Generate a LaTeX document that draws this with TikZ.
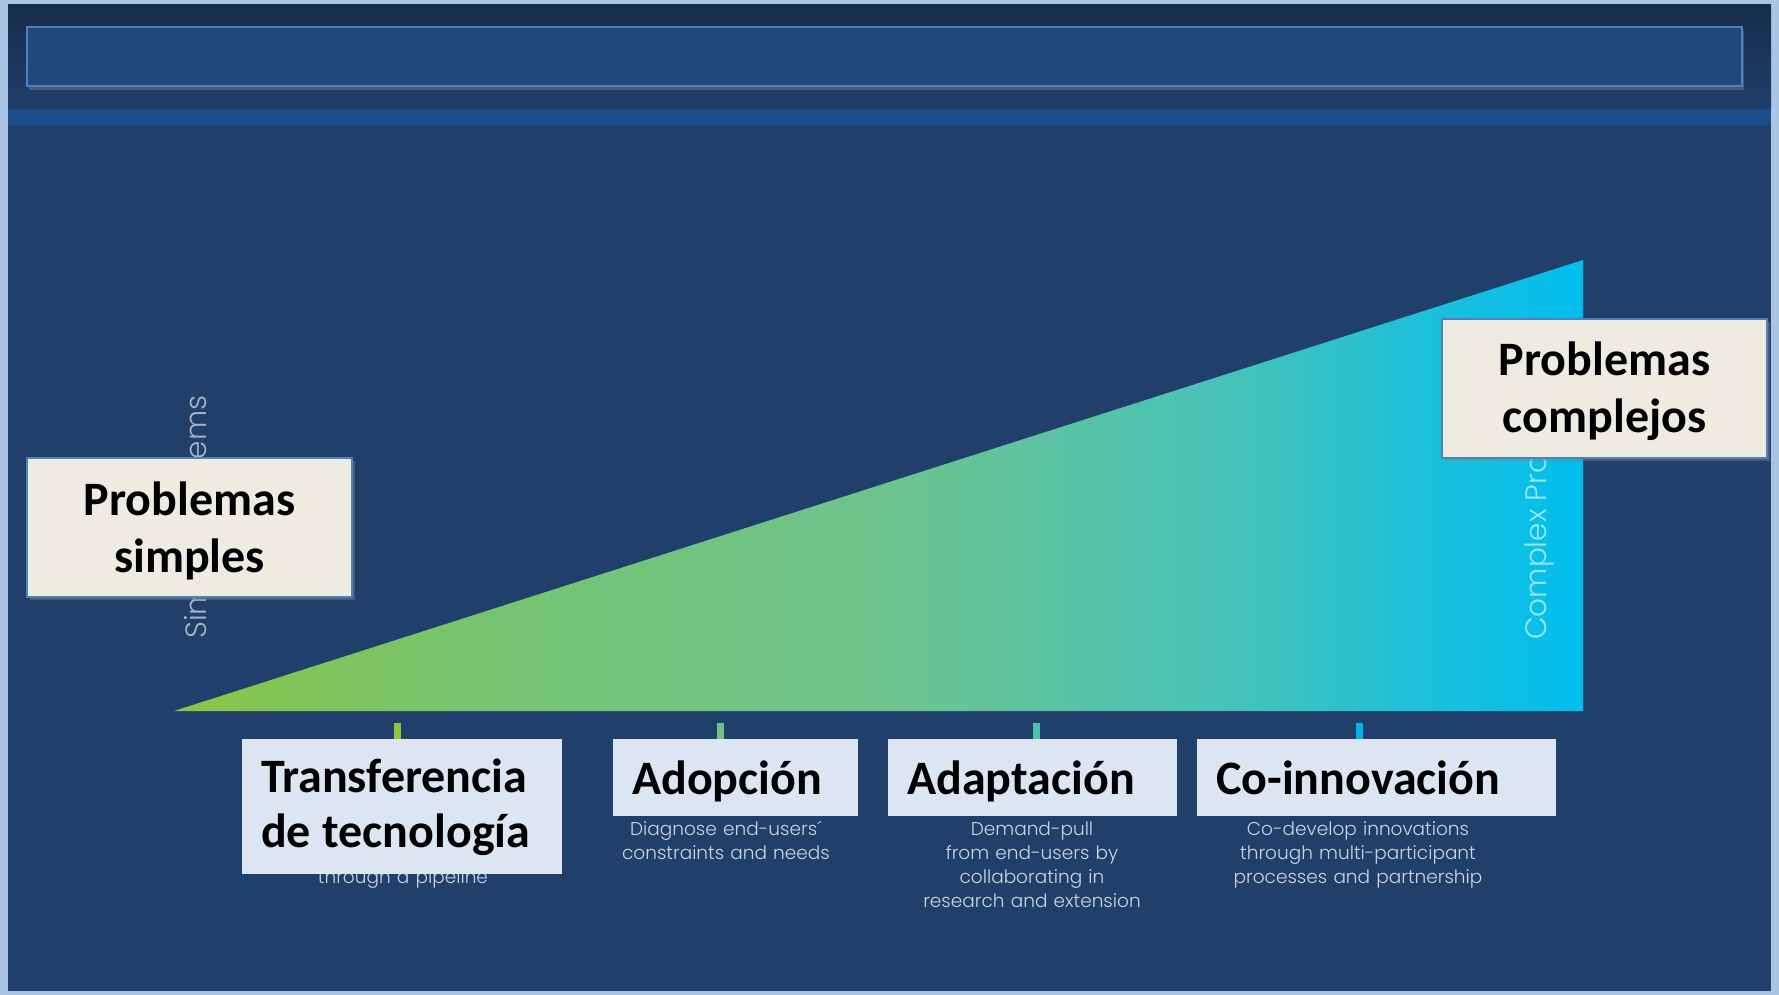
\documentclass[tikz,border=0pt]{standalone}
\usepackage{fontspec}
\newfontfamily\calfont{Carlito}
\newfontfamily\thinfont{Poppins Light}
\usetikzlibrary{shadows}

\definecolor{framec}{RGB}{169,196,228}
\definecolor{bgc}{RGB}{32,63,106}
\definecolor{topc}{RGB}{24,44,76}
\definecolor{stripec}{RGB}{27,77,138}
\definecolor{headfill}{RGB}{31,73,125}
\definecolor{headline}{RGB}{79,129,189}
\definecolor{cream}{RGB}{238,236,225}
\definecolor{lblue}{RGB}{220,230,242}
\definecolor{descc}{RGB}{205,212,225}
\definecolor{s0}{RGB}{137,198,70}
\definecolor{s1}{RGB}{118,196,110}
\definecolor{s2}{RGB}{110,195,140}
\definecolor{s3}{RGB}{70,195,185}
\definecolor{s4}{RGB}{25,192,220}
\definecolor{s5}{RGB}{0,190,238}
\definecolor{tc1}{RGB}{141,198,63}
\definecolor{tc2}{RGB}{110,195,130}
\definecolor{tc3}{RGB}{75,195,170}
\definecolor{tc4}{RGB}{0,180,235}

\pgfdeclarehorizontalshading{trishade}{100bp}{color(0bp)=(s0); color(25bp)=(s0); color(35bp)=(s1); color(50bp)=(s2); color(62.5bp)=(s3); color(70bp)=(s4); color(75bp)=(s5); color(100bp)=(s5)}

\begin{document}
\begin{tikzpicture}[x=1pt,y=-1pt,
  header/.style={fill=headfill, draw=headline, line width=2pt, minimum width=1715pt, minimum height=59pt, inner sep=0pt,
    drop shadow={opacity=0.45, shadow xshift=2pt, shadow yshift=-4pt}},
  lbl/.style={fill=lblue, inner xsep=19pt, inner ysep=0pt, anchor=base west, align=left, text=black,
    font={\calfont\bfseries\fontsize{48pt}{55pt}\selectfont}},
  prob/.style={fill=cream, draw=headline, line width=1.5pt, inner sep=0pt, anchor=base, align=center, text width=325pt, text=black,
    font={\calfont\bfseries\fontsize{48pt}{57pt}\selectfont},
    drop shadow={opacity=0.45, shadow xshift=3pt, shadow yshift=-3pt}},
  desc/.style={text=descc, anchor=base, align=center, text width=320pt, inner sep=0pt,
    font={\thinfont\fontsize{18.5pt}{24pt}\selectfont}},
  vert/.style={text=white, text opacity=0.6, rotate=90, anchor=base west, inner sep=0pt,
    font={\thinfont\fontsize{29.5pt}{31pt}\selectfont}},
  tick/.style={line width=7pt}
]
\useasboundingbox (0,0) rectangle (1779,995);
% frame and background
\fill[framec] (0,0) rectangle (1779,995);
\fill[bgc] (8,5) rectangle (1771,991);
\shade[top color=topc, bottom color=bgc] (8,5) rectangle (1771,109);
\fill[stripec] (8,109) rectangle (1771,125);
\node[header] (head) at (884.5,56.5) {};

% triangle
\shade[shading=trishade] (174,711) -- (1583,711) -- (1583,260) -- cycle;

% vertical hidden texts
\node[vert] (vs) at (206,639) {Simple Problems};
\node[vert] (vc) at (1546,640) {Complex Problems};

% problem boxes
\node[prob, text height=57pt, text depth=82pt] (p1) at (189.5,515) {Problemas\\simples};
\node[prob, text height=56pt, text depth=83pt] (p2) at (1604.5,375) {Problemas\\complejos};

% descriptions
\node[desc] (d1) at (403,883) {through a pipeline};
\node[desc] (d2) at (726,835) {Diagnose end-users´\\constraints and needs};
\node[desc] (d3) at (1032,835) {Demand-pull\\from end-users by\\collaborating in\\research and extension};
\node[desc] (d4) at (1358,835) {Co-develop innovations\\through multi-participant\\processes and partnership};

% stage boxes
\node[lbl, text width=282pt, text height=53pt, text depth=82pt] (b1) at (242,792) {Transferencia\\de\hspace{0.24em}tecnología};
\node[lbl, text width=207pt, text height=55pt, text depth=22pt] (b2) at (613,794) {Adopción};
\node[lbl, text width=251pt, text height=55pt, text depth=22pt] (b3) at (888,794) {Adaptación};
\node[lbl, text width=321pt, text height=55pt, text depth=22pt] (b4) at (1197,794) {Co-innovación};

% ticks
\coordinate (k1) at (397,723);
\coordinate (k2) at (720,723);
\coordinate (k3) at (1036,723);
\coordinate (k4) at (1359,723);
\draw[tick, tc1] (k1) -- (k1 |- b1.north);
\draw[tick, tc2] (k2) -- (k2 |- b2.north);
\draw[tick, tc3] (k3) -- (k3 |- b3.north);
\draw[tick, tc4] (k4) -- (k4 |- b4.north);
\end{tikzpicture}
\end{document}
